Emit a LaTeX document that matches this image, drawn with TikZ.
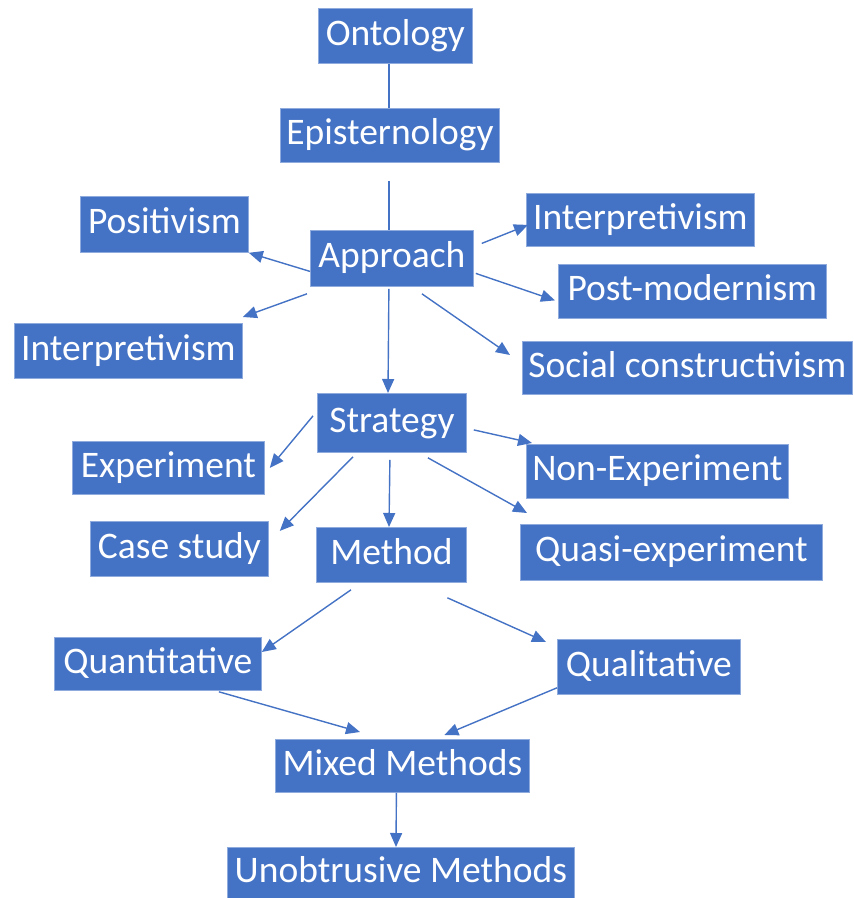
\documentclass[tikz,border=0pt]{standalone}
\usepackage{fontspec}
\setmainfont{Carlito}
\usetikzlibrary{arrows.meta,calc}
\definecolor{boxblue}{HTML}{4472C4}
\definecolor{edgeblue}{HTML}{8FAADC}
\tikzset{
  box/.style={draw=edgeblue, line width=0.8pt, fill=boxblue, text=white,
    anchor=north west, inner sep=0pt, align=center,
    font=\fontsize{37.5}{40}\selectfont, text height=26pt, text depth=7pt},
  conn/.style={draw=boxblue, line width=1.4pt},
  arr/.style={conn, -{Triangle[length=14pt,width=12pt]}}
}
\begin{document}
\begin{tikzpicture}[x=1pt,y=-1pt]
\useasboundingbox (0,0) rectangle (854,898);
\node[box, minimum width=154pt, minimum height=55pt] (ont) at (318,8) {Ontology};
\node[box, minimum width=219pt, minimum height=54pt] (epi) at (280,108) {Episternology};
\node[box, minimum width=163pt, minimum height=56pt] (app) at (310,230) {Approach};
\node[box, minimum width=168pt, minimum height=56pt] (pos) at (80,196) {Positivism};
\node[box, minimum width=228pt, minimum height=55pt] (intl) at (14,323) {Interpretivism};
\node[box, minimum width=228pt, minimum height=53pt] (intr) at (526,193) {Interpretivism};
\node[box, minimum width=268pt, minimum height=54pt] (post) at (558,264) {Post-modernism};
\node[box, minimum width=330pt, minimum height=53pt] (soc) at (522,341) {Social constructivism};
\node[box, minimum width=149pt, minimum height=59pt] (str) at (317,393) {Strategy};
\node[box, minimum width=192pt, minimum height=53pt] (exp) at (72,441) {Experiment};
\node[box, minimum width=178pt, minimum height=55pt] (case) at (90,521) {Case study};
\node[box, minimum width=150pt, minimum height=55pt] (meth) at (316,527) {Method};
\node[box, minimum width=262pt, minimum height=54pt] (nonexp) at (526,444) {Non-Experiment};
\node[box, minimum width=302pt, minimum height=56pt] (quasi) at (520,524) {Quasi-experiment};
\node[box, minimum width=207pt, minimum height=53pt] (quant) at (54,637) {Quantitative};
\node[box, minimum width=183pt, minimum height=55pt] (qual) at (557,639) {Qualitative};
\node[box, minimum width=254pt, minimum height=53pt] (mixed) at (275,739) {Mixed Methods};
\node[box, minimum width=347pt, minimum height=51pt] (unob) at (227,847) {Unobtrusive Methods};

% connectors
\draw[conn] (ont.south -| 389,0) -- (epi.north -| 389,0);
\coordinate (epiout) at ($(epi.south -| 389,0)+(0,18)$);
\draw[conn] (epiout) -- (app.north -| 389,0);
\draw[arr] ($(app.west)+(0,13)$) -- (pos.south east);
\draw[arr] ($(app.south west)+(-3,7)$) -- ($(intl.north east)+(0,-6)$);
\draw[arr] ($(app.south)+(-3,2)$) -- (str.north -| 388,0);
\draw[arr] ($(app.east)+(8,-15)$) -- ($(intr.west)+(2,5)$);
\draw[arr] ($(app.east)+(2,15)$) -- ($(post.west)+(-3,9)$);
\draw[arr] ($(app.south)+(30,7)$) -- ($(soc.north west)+(-12,14)$);
\draw[arr] ($(str.west)+(-4,-7)$) -- ($(exp.east)+(5,0)$);
\draw[arr] ($(str.south west)+(36,4)$) -- ($(case.east)+(11,-18)$);
\draw[arr] ($(str.south)+(-2,7)$) -- (meth.north -| 389,0);
\draw[arr] ($(str.east)+(7,7)$) -- ($(nonexp.north west)+(6,-1)$);
\draw[arr] ($(str.south)+(36,5)$) -- ($(quasi.north west)+(7,-11)$);
\draw[arr] ($(meth.south west)+(35,7)$) -- ($(quant.north east)+(0,15)$);
\draw[arr] ($(meth.south)+(56,15)$) -- ($(qual.north west)+(-11,3)$);
\draw[arr] ($(quant.south)+(61,1)$) -- ($(mixed.north west)+(85,-7)$);
\draw[arr] ($(qual.south west)+(0,-7)$) -- ($(mixed.north)+(42,-4)$);
\draw[arr] ($(mixed.south)+(-6,0)$) -- (unob.north -| 396,0);
\end{tikzpicture}
\end{document}
